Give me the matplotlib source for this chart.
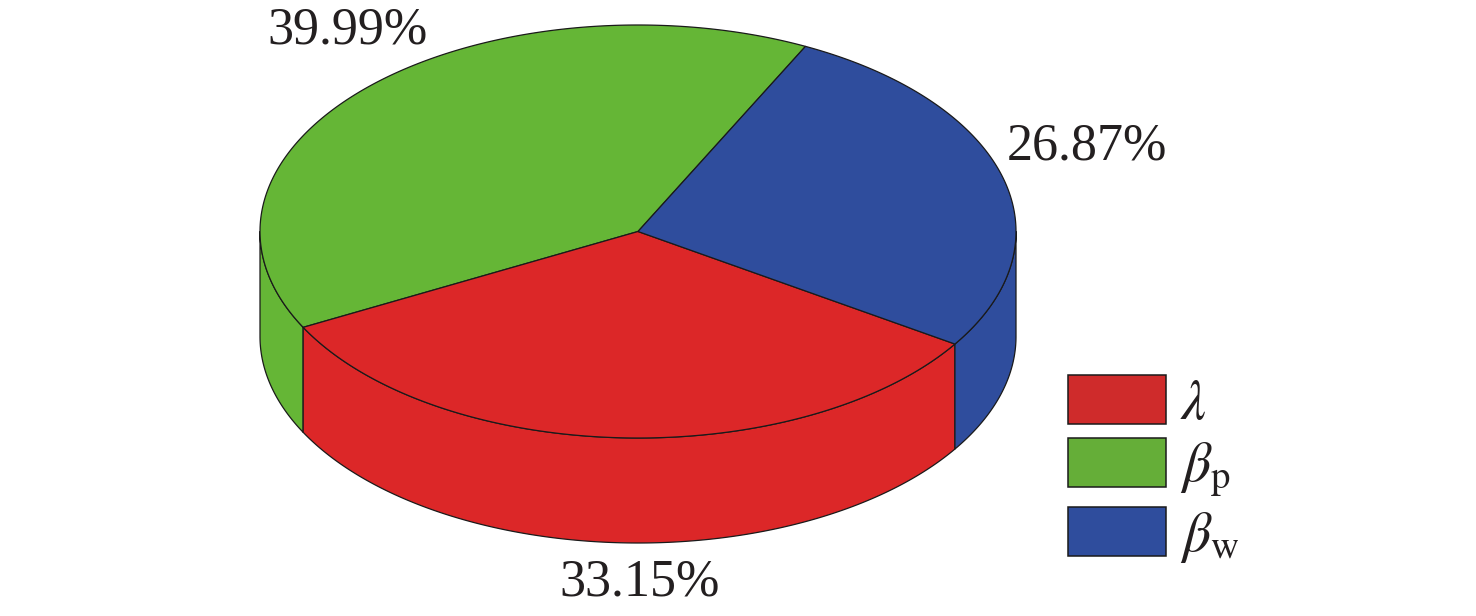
import numpy as np
import matplotlib
matplotlib.use("Agg")
import matplotlib.pyplot as plt
from matplotlib.patches import Patch, Polygon

labels = [r"$\beta_{\mathrm{p}}$", r"$\lambda$", r"$\beta_{\mathrm{w}}$"]
values = [39.99, 33.15, 26.87]
value_labels = ["39.99%", "33.15%", "26.87%"]
colors = ["#65B636", "#DC2728", "#2F4D9D"]
legend_colors = ["#65AE38", "#CF2B2B", "#2F4D9D"]
legend_order = [1, 0, 2]

plt.rcParams["font.family"] = ["Liberation Serif", "DejaVu Serif"]
plt.rcParams["mathtext.fontset"] = "stix"

fig = plt.figure(figsize=(14.76, 6.16), dpi=100)
ax = fig.add_axes([0, 0, 1, 1])
ax.set_xlim(0, 1476)
ax.set_ylim(616, 0)
ax.axis("off")

CX, CY, RX, RY, DEPTH = 638, 231.5, 378, 206.5, 105
START = 63.7
EDGE = dict(edgecolor="#1a1a1a", linewidth=0.9, joinstyle="round")


def arc(a0, a1, dy=0.0):
    t = np.radians(np.linspace(a0, a1, max(int(abs(a1 - a0) * 3), 2)))
    return np.column_stack([CX + RX * np.cos(t), CY - RY * np.sin(t) + dy])


sweeps = np.array(values) / np.sum(values) * 360
edges = START + np.concatenate([[0], np.cumsum(sweeps)])

# Side wall: only the front half of the rim (180..360 degrees) is visible
for i, col in enumerate(colors):
    a0 = max(edges[i], 180)
    a1 = min(edges[i + 1], 360)
    if a1 > a0:
        top = arc(a0, a1)
        bottom = arc(a0, a1, DEPTH)[::-1]
        ax.add_patch(Polygon(np.vstack([top, bottom]), closed=True, facecolor=col, **EDGE))

# Top face
for i, col in enumerate(colors):
    pts = np.vstack([[CX, CY], arc(edges[i], edges[i + 1])])
    ax.add_patch(Polygon(pts, closed=True, facecolor=col, **EDGE))

TEXT = dict(fontsize=37.5, color="#231F20", ha="center", va="center")
ax.text(347, 30, value_labels[0], **TEXT)
ax.text(640, 582, value_labels[1], **TEXT)
ax.text(1087, 147, value_labels[2], **TEXT)

handles = [Patch(facecolor=legend_colors[i], edgecolor="#1a1a1a", linewidth=1.1) for i in legend_order]
ax.legend(
    handles, [labels[i] for i in legend_order],
    loc="upper left", bbox_to_anchor=(1068 / 1476, 1 - 375 / 616), bbox_transform=fig.transFigure,
    frameon=False, fontsize=40, handlelength=1.764, handleheight=0.98,
    borderpad=0, borderaxespad=0, labelspacing=0.14, handletextpad=0.25,
    labelcolor="#231F20",
)

fig.savefig("out.png", dpi=100, facecolor="white")
